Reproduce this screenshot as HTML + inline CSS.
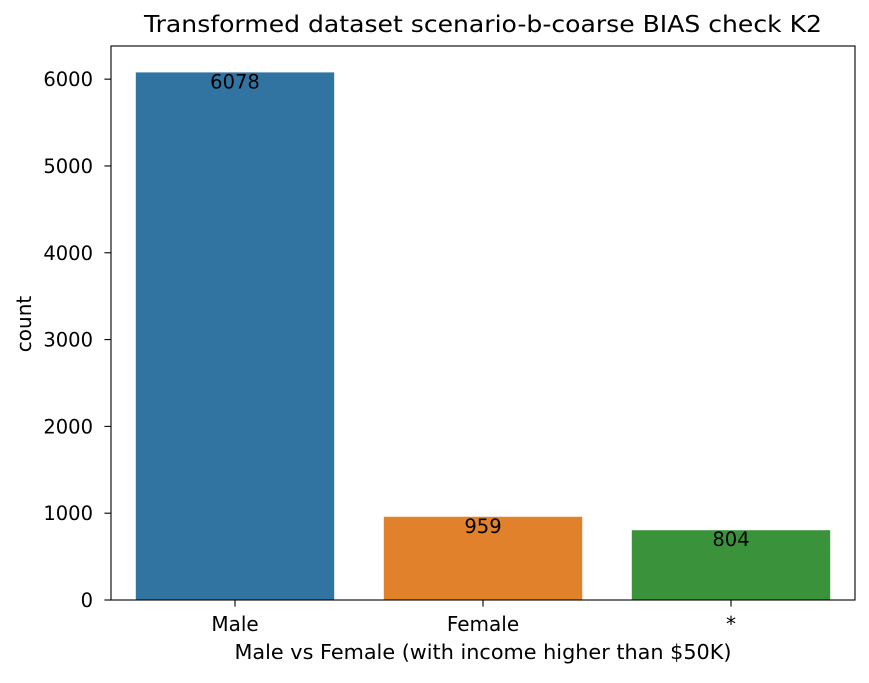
<!DOCTYPE html>
<html><head><meta charset="utf-8"><style>
body{margin:0;background:#fff;}
svg text{font-family:"DejaVu Sans","Liberation Sans",sans-serif;fill:#000;}
</style></head><body>
<svg id="chart" width="869" height="678" xmlns="http://www.w3.org/2000/svg">
<text x="483" y="32" font-size="23" text-anchor="middle" textLength="678" lengthAdjust="spacingAndGlyphs">Transformed dataset scenario-b-coarse BIAS check K2</text>
<g id="plot"></g>
<text x="483" y="659" font-size="20" text-anchor="middle" textLength="497" lengthAdjust="spacingAndGlyphs">Male vs Female (with income higher than $50K)</text>
<text transform="translate(31,324) rotate(-90)" font-size="20" text-anchor="middle">count</text>
</svg>
<script>
const categories = ["Male", "Female", "*"];
const counts = [6078, 959, 804];
const colors = ["#3274a1", "#e1812c", "#3a923a"];
const yTicks = [0, 1000, 2000, 3000, 4000, 5000, 6000];

const L = 111, R = 855, T = 46, B = 600;
const yMax = 6382;
const ns = "http://www.w3.org/2000/svg";
const g = document.getElementById('plot');
const band = (R - L) / categories.length;
function x(i) { return L + band * i + band / 2; }
function y(v) { return B - (v / yMax) * (B - T); }
function mk(tag, attrs) {
  const e = document.createElementNS(ns, tag);
  for (const k in attrs) e.setAttribute(k, attrs[k]);
  g.appendChild(e);
  return e;
}
categories.forEach((c, i) => {
  const w = band * 0.8;
  const r = mk('rect', {x: x(i) - w / 2, y: y(counts[i]), width: w, height: B - y(counts[i]), fill: colors[i]});
  
  
  const t = mk('text', {x: x(i), y: y(counts[i]) + 16, 'font-size': 19.5, 'text-anchor': 'middle'});
  t.textContent = counts[i];
  
  
  const tk = mk('line', {x1: x(i), x2: x(i), y1: B, y2: B + 6.6, stroke: '#000', 'stroke-width': 1.1});
  
  
  const tl = mk('text', {x: x(i), y: 631, 'font-size': 20, 'text-anchor': 'middle'});
  tl.textContent = c;
  
  
});
yTicks.forEach(v => {
  const tk = mk('line', {x1: L - 6.6, x2: L, y1: y(v), y2: y(v), stroke: '#000', 'stroke-width': 1.1});
  
  
  const tl = mk('text', {x: L - 18, y: y(v) + 7, 'font-size': 19.5, 'text-anchor': 'end'});
  tl.textContent = v;
  
  
});
const frame = mk('rect', {x: L, y: T, width: R - L, height: B - T, fill: 'none', stroke: '#000', 'stroke-width': 1.1});


</script>
</body></html>
